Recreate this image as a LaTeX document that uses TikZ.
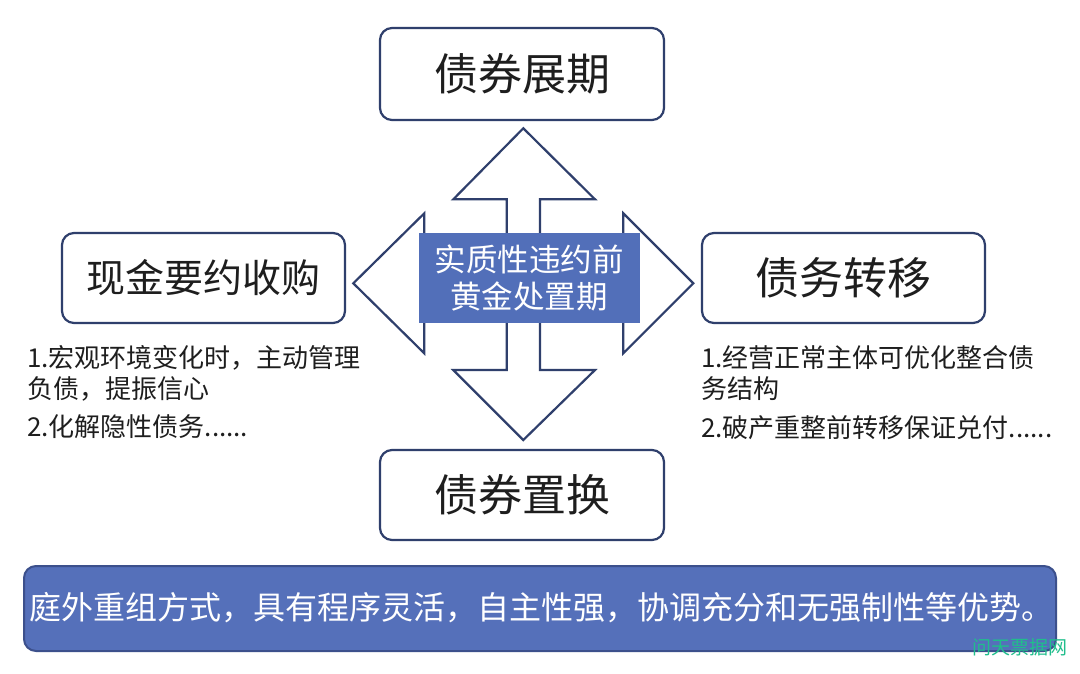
\documentclass[tikz,border=0pt]{standalone}
\usepackage{fontspec}
\setmainfont{Noto Sans CJK SC}
\definecolor{navy}{RGB}{47,63,108}
\definecolor{boxblue}{RGB}{82,111,185}
\definecolor{bannerblue}{RGB}{85,112,186}
\definecolor{bannerline}{RGB}{60,80,140}
\definecolor{wmgreen}{RGB}{32,190,140}
\definecolor{txt}{RGB}{30,30,30}
\tikzset{
  labelbox/.style={draw=navy, line width=2.2pt, fill=white, rounded corners=12pt},
  bigtext/.style={text=txt, font=\fontsize{44}{48}\selectfont},
  bodytext/.style={text=txt, anchor=base west, inner sep=0pt, font=\fontsize{26}{30}\selectfont},
}
\begin{document}
\begin{tikzpicture}[x=1pt,y=-1pt]
\useasboundingbox (0,0) rectangle (1080,673);
\fill[white] (0,0) rectangle (1080,673);
% cross arrow
\draw[navy, line width=2.2pt, fill=white, line join=miter]
  (523.3,128.3) -- (595,199.3) -- (540,199.3) -- (540,266) -- (623.3,266) -- (623.3,213.3)
  -- (693.3,283.3) -- (623.3,353.3) -- (623.3,300) -- (540,300) -- (540,370) -- (595,370)
  -- (523.3,440) -- (453.3,370) -- (506.7,370) -- (506.7,300) -- (424.3,300) -- (424.3,353.3)
  -- (353.3,283.3) -- (424.3,213.3) -- (424.3,266) -- (506.7,266) -- (506.7,199.3)
  -- (453.3,199.3) -- cycle;
% center box
\node[fill=boxblue, minimum width=221pt, minimum height=90pt, inner sep=0pt, align=center,
  text=white, font=\fontsize{31.5}{37}\selectfont] (core) at (529,278.3) {实质性违约前\\黄金处置期};
% four boxes
\draw[labelbox] (380,28) rectangle (664,120);
\node[bigtext] (top) at (522,74) {债券展期};
\draw[labelbox] (62,233) rectangle (345,323);
\node[text=txt, font=\fontsize{39}{44}\selectfont] (left) at (203.5,278) {现金要约收购};
\draw[labelbox] (702,233) rectangle (985,323);
\node[bigtext] (right) at (843.5,278) {债务转移};
\draw[labelbox] (380,450) rectangle (664,540);
\node[bigtext] (bottom) at (522,495) {债券置换};
% descriptions
\node[bodytext] (l1) at (27,367) {1.宏观环境变化时，主动管理};
\node[bodytext] (l2) at (27,398) {负债，提振信心};
\node[bodytext] (l3) at (27,436) {2.化解隐性债务......};
\node[bodytext] (r1) at (701,367) {1.经营正常主体可优化整合债};
\node[bodytext] (r2) at (701,398) {务结构};
\node[bodytext] (r3) at (701,437) {2.破产重整前转移保证兑付......};
% banner
\draw[draw=bannerline, line width=2pt, fill=bannerblue, rounded corners=12pt] (24,566) rectangle (1056,651);
\node[text=white, font=\fontsize{32}{36}\selectfont] (banner) at (542,608) {庭外重组方式，具有程序灵活，自主性强，协调充分和无强制性等优势。};
% watermark
\node[text=wmgreen, font=\fontsize{19}{22}\selectfont, inner sep=0pt] (wm) at (1020,647) {问天票据网};
\end{tikzpicture}
\end{document}
